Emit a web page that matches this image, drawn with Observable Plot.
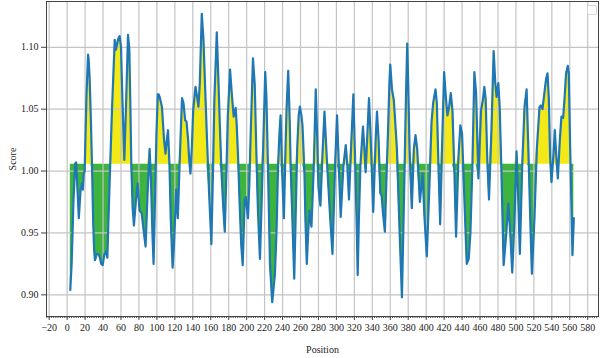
<!DOCTYPE html>
<html><head><meta charset="utf-8">
<script src="https://cdn.jsdelivr.net/npm/d3@7"></script>
<script src="https://cdn.jsdelivr.net/npm/@observablehq/plot@0.6"></script>
<style>
body{margin:0;background:#fff;}
#chart{position:relative;width:600px;height:358px;}
.legendbox{position:absolute;left:587px;top:5px;width:8px;height:8px;border:1px solid #d8d8d8;border-radius:2px;background:#fff;}
</style></head><body><div id="chart"></div>
<script>
const positions = [3.5,5,7,9,10,11.5,13,15,16.5,17.5,18.5,19.5,21.5,23.3,24,25,26.5,27.8,29,30,31,33,35,36.5,38,39.6,41.5,43.3,44.8,46,48,50,53,54.4,56.3,57.5,58.5,60,61.5,63.7,65.5,67.8,69.3,70.5,71.5,73,74.4,76.5,78.5,80.7,83,85.2,87.4,89.5,91.9,93.5,95,96.3,98,99.5,101,102,103,105.6,108,109.6,111,112.4,114,115.5,117.5,119,121.5,123.3,125.5,128,129.6,131.5,133,134.8,136,137.4,139,140.4,143,144.8,146.3,147.8,150,151.9,153.7,155.6,158,160.7,162.5,164,166.7,168,170,171.9,174,175.6,177.5,179,181.5,183.7,185.6,187.8,189,190.5,192,194,195.6,197.8,199,201.5,203,204.5,207,209,210.7,212.5,214.8,216.5,218.5,220.7,222,223.7,226,228.5,231.5,233.3,235,236.5,237.8,239.5,241.5,243,244.4,246.3,248,249,251,253,254.5,256.3,258,259.3,261,262.2,264.4,265.5,267,268.5,270,272.2,274.8,277,278.5,280,282.2,284.4,286.7,289.6,292.6,295.6,298.5,300.7,303,304.8,307.8,310.4,312.2,314,317,318.9,321,322.5,323.7,325,326.7,329.6,331,332.6,334.5,336.3,338,339.3,341,343.7,345.2,347,348.9,350.4,351.9,354,356,357.4,359,360,361.9,364,365.5,367.4,370.4,373,374.5,376,377.5,378.9,380,381.5,384,386.3,388.1,390,393,396,398.1,400.7,403.7,406,407.8,410.4,411.9,413.7,415.6,418.1,420,421.9,423.7,425.6,427.4,429.3,431.5,433.3,436,438.1,440,442.6,445.2,447.4,449.3,451.5,453.7,455.6,458.2,461.1,463.3,464.8,466.3,468.1,470,472.6,475.2,477,478.5,480.4,481.9,483.7,486.3,489.3,491.5,493.7,495.9,498.5,500.7,502.6,504.4,507,509.6,511.9,514.4,515.9,517.8,520.7,523.3,526.3,527.8,529.6,532.2,533.7,535.2,536.7,538.1,539.6,541.9,543.3,544.8,546.7,548.9,550.7,552.6,554,555.9,557.8,558.9,560.4,561.9,563,564.5];
const scores = [0.904,0.925,0.975,1.006,1.007,0.985,0.962,0.985,0.990,0.985,0.998,1.000,1.060,1.094,1.090,1.076,1.040,1.001,0.960,0.937,0.928,0.933,0.933,0.930,0.925,0.924,0.933,0.935,0.930,0.960,1.006,1.050,1.106,1.098,1.105,1.108,1.109,1.100,1.060,1.009,1.050,1.110,1.098,1.050,1.005,0.970,0.956,0.975,0.990,0.968,0.966,0.952,0.939,0.980,1.018,0.990,0.950,0.925,0.980,1.030,1.062,1.062,1.060,1.052,1.025,1.014,1.025,1.033,1.005,0.960,0.922,0.940,0.985,0.962,1.010,1.059,1.055,1.041,1.040,1.025,1.009,0.998,1.020,1.049,1.068,1.060,1.052,1.071,1.127,1.106,1.068,1.030,0.985,0.941,1.000,1.057,1.112,1.085,1.040,1.000,0.970,0.951,1.000,1.044,1.082,1.060,1.044,1.051,1.036,1.010,0.977,0.940,0.924,0.977,0.979,0.962,0.990,1.030,1.091,1.070,1.018,0.970,0.929,0.970,1.022,1.080,1.060,1.005,0.924,0.894,0.917,0.952,1.004,1.030,1.045,1.000,0.962,1.010,1.049,1.081,1.040,1.004,0.960,0.913,0.960,1.018,1.045,1.052,1.045,1.037,0.998,0.960,0.925,0.950,0.968,0.955,1.004,1.066,1.030,0.987,0.972,1.012,1.048,1.006,0.968,0.933,1.004,1.045,0.998,0.963,1.004,1.021,1.004,0.977,1.030,1.062,1.004,0.960,0.916,0.960,1.004,1.036,1.020,0.999,1.030,1.059,1.030,1.004,0.967,1.025,1.048,1.025,0.982,0.980,0.966,0.951,1.000,1.030,1.070,1.086,1.066,1.057,1.040,1.018,0.951,0.898,0.950,1.004,1.060,1.103,1.070,1.018,0.970,1.018,1.029,1.018,0.975,0.998,0.963,0.931,0.990,1.040,1.055,1.066,1.055,1.004,0.957,1.030,1.080,1.060,1.045,1.052,1.063,1.049,0.998,0.947,1.012,1.037,1.030,0.977,0.925,0.929,0.950,1.004,1.080,1.063,0.994,1.049,1.058,1.068,1.058,1.009,0.977,1.030,1.097,1.071,1.060,1.071,1.052,1.004,0.924,0.950,0.974,0.950,0.918,0.963,1.016,0.977,0.933,1.004,1.052,1.066,1.004,0.963,0.917,0.963,1.018,1.052,1.053,1.050,1.066,1.075,1.079,1.058,1.012,0.991,1.014,1.033,1.014,0.994,1.025,1.044,1.043,1.057,1.079,1.085,1.079,1.020,0.971,0.932,0.962];
const threshold = 1.0055;
const xTicks = d3.range(-20, 581, 20);
const xMinorTicks = d3.range(-22.5, 591, 2.5);
const yTicks = [0.90, 0.95, 1.00, 1.05, 1.10];

const data = positions.map((p, i) => ({p, s: scores[i]}));

const plot = Plot.plot({
  width: 600, height: 358,
  marginLeft: 46, marginRight: 2, marginTop: 1, marginBottom: 42,
  style: {fontFamily: "'Liberation Serif', 'DejaVu Serif', serif", fontSize: "10px", background: "#fff", color: "#222"},
  x: {domain: [-23, 592]},
  y: {domain: [0.8825, 1.137]},
  marks: [
    Plot.areaY(data, {x: "p", y1: () => threshold, y2: d => Math.max(d.s, threshold), fill: "#f2e917"}),
    Plot.areaY(data, {x: "p", y1: () => threshold, y2: d => Math.min(d.s, threshold), fill: "#3db43d"}),
    Plot.ruleX(xTicks, {stroke: "#c4c4c4", strokeWidth: 1.2}),
    Plot.ruleY(yTicks, {stroke: "#c4c4c4", strokeWidth: 1.2}),
    Plot.lineY(data, {x: "p", y: "s", stroke: "#1f77b4", strokeWidth: 2.2, strokeLinejoin: "round"}),
    Plot.axisX({ticks: xMinorTicks, tickSize: 2, text: null, label: null, stroke: "#444"}),
    Plot.axisX({ticks: xTicks, tickSize: 4, tickPadding: 3, fontSize: 10, tickFormat: d => d < 0 ? "\u2212" + Math.abs(d) : String(d), stroke: "#444", fill: "#222",
      label: "Position", labelAnchor: "center", labelArrow: "none", labelOffset: 36}),
    Plot.axisY({ticks: yTicks, tickSize: 5, tickPadding: 3, fontSize: 10, tickFormat: d3.format(".2f"), stroke: "#444", fill: "#222",
      label: "Score", labelAnchor: "center", labelArrow: "none", labelOffset: 38}),
    Plot.frame({stroke: "#444", strokeWidth: 1})
  ]
});
const chart = document.getElementById("chart");
chart.appendChild(plot);
const lb = document.createElement("div");
lb.className = "legendbox";
chart.appendChild(lb);
</script>
</body></html>
